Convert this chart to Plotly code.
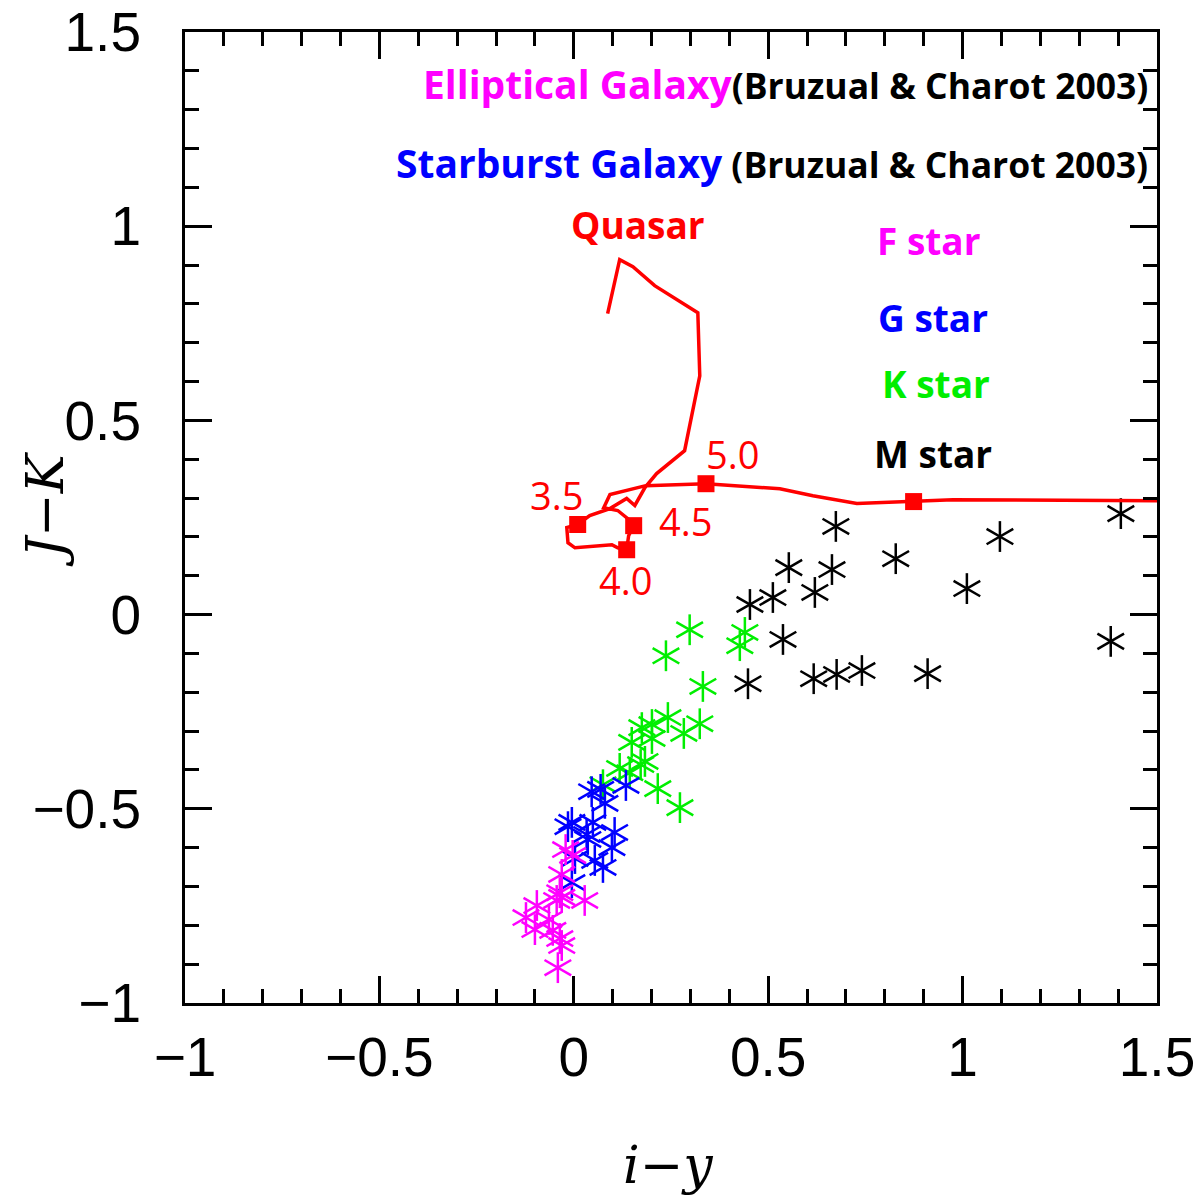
import plotly.graph_objects as go

# ---------------- data ----------------
quasar_x = [0.087, 0.118, 0.152, 0.208, 0.319, 0.324, 0.285, 0.213, 0.183, 0.157, 0.136, 0.093,
            0.041, 0.010, -0.018, -0.015, 0.003, 0.098, 0.113, 0.136, 0.141, 0.154, 0.139, 0.113,
            0.077, 0.093, 0.185, 0.340, 0.530, 0.615, 0.728, 0.874, 0.975, 1.5]
quasar_y = [0.775, 0.914, 0.896, 0.847, 0.777, 0.615, 0.422, 0.363, 0.327, 0.281, 0.299, 0.273,
            0.255, 0.232, 0.224, 0.185, 0.172, 0.180, 0.172, 0.167, 0.203, 0.229, 0.247, 0.268,
            0.275, 0.309, 0.332, 0.337, 0.324, 0.306, 0.286, 0.291, 0.296, 0.293]

z_mark_x = [0.010, 0.136, 0.154, 0.340, 0.874]
z_mark_y = [0.232, 0.167, 0.229, 0.337, 0.291]

z_label_text = ["3.5", "4.0", "4.5", "5.0"]
z_label_x = [-0.044, 0.134, 0.288, 0.409]
z_label_y = [0.309, 0.088, 0.242, 0.414]

m_x = [0.674, 1.407, 1.096, 0.828, 0.553, 0.664, 0.620, 0.512, 0.453, 1.011, 1.381, 0.538,
       0.448, 0.617, 0.676, 0.741, 0.910]
m_y = [0.227, 0.260, 0.201, 0.144, 0.121, 0.116, 0.057, 0.044, 0.026, 0.067, -0.069, -0.064,
       -0.178, -0.165, -0.154, -0.144, -0.152]

k_x = [0.298, 0.237, 0.440, 0.427, 0.332, 0.242, 0.324, 0.201, 0.175, 0.283, 0.201, 0.149,
       0.183, 0.172, 0.118, 0.144, 0.075, 0.216, 0.273]
k_y = [-0.039, -0.106, -0.046, -0.080, -0.185, -0.265, -0.281, -0.283, -0.291, -0.306, -0.319,
       -0.329, -0.378, -0.386, -0.396, -0.407, -0.438, -0.448, -0.497]

g_x = [0.046, 0.069, 0.080, 0.134, -0.005, -0.015, 0.049, 0.033, 0.036, 0.105, 0.098, 0.054,
       0.075, 0.003, -0.005]
g_y = [-0.456, -0.450, -0.486, -0.440, -0.535, -0.546, -0.535, -0.566, -0.579, -0.561, -0.600,
       -0.633, -0.651, -0.628, -0.690]

f_x = [-0.021, -0.003, -0.031, -0.036, -0.031, -0.044, 0.028, -0.095, -0.123, -0.064, -0.100,
       -0.054, -0.036, -0.031, -0.041]
f_y = [-0.605, -0.620, -0.669, -0.716, -0.728, -0.736, -0.736, -0.749, -0.780, -0.785, -0.811,
       -0.813, -0.834, -0.852, -0.909]

x_ticks = [-1, -0.5, 0, 0.5, 1, 1.5]
y_ticks = [-1, -0.5, 0, 0.5, 1, 1.5]

# ---------------- figure ----------------
fig = go.Figure()

def add_asterisks(xs, ys, color):
    for ang in (0, 60, -60):
        fig.add_trace(go.Scatter(
            x=xs, y=ys, mode="markers", showlegend=False, hoverinfo="skip",
            marker=dict(symbol="line-ns", size=22, angle=ang, color=color,
                        line=dict(color=color, width=2.5))))

add_asterisks(m_x, m_y, "black")
add_asterisks(k_x, k_y, "#00ee00")
add_asterisks(g_x, g_y, "#0000ff")
add_asterisks(f_x, f_y, "#ff00ff")

fig.add_trace(go.Scatter(x=quasar_x, y=quasar_y, mode="lines", showlegend=False,
                         line=dict(color="#ff0000", width=3.5)))
fig.add_trace(go.Scatter(x=z_mark_x, y=z_mark_y, mode="markers", showlegend=False,
                         marker=dict(symbol="square", size=17, color="#ff0000")))

for t, xx, yy in zip(z_label_text, z_label_x, z_label_y):
    fig.add_annotation(x=xx, y=yy, text=t, showarrow=False,
                       font=dict(family="Open Sans", size=38, color="#ff0000"))

bold = "Open Sans"
fig.add_annotation(x=0.165, y=1.004, text="<b>Quasar</b>", showarrow=False,
                   font=dict(family=bold, size=37, color="#ff0000"))
star_labels = [("F star", "#ff00ff", 0.913, 0.963), ("G star", "#0000ff", 0.923, 0.764),
               ("K star", "#00ee00", 0.931, 0.595), ("M star", "black", 0.923, 0.414)]
for t, c, xx, yy in star_labels:
    fig.add_annotation(x=xx, y=yy, text="<b>" + t + "</b>", showarrow=False,
                       font=dict(family=bold, size=37, color=c))

fig.add_annotation(x=1.481, y=1.367, xanchor="right", showarrow=False,
                   text="<b><span style='color:#ff00ff;font-size:39px'>Elliptical Galaxy</span>"
                        "<span style='font-size:35.5px'>(Bruzual &amp; Charot 2003)</span></b>",
                   font=dict(family=bold, size=35.5, color="black"))
fig.add_annotation(x=1.481, y=1.163, xanchor="right", showarrow=False,
                   text="<b><span style='color:#0000ff;font-size:39px'>Starburst Galaxy</span>"
                        "<span style='font-size:35.5px'> (Bruzual &amp; Charot 2003)</span></b>",
                   font=dict(family=bold, size=35.5, color="black"))

# axis titles
fig.add_annotation(xref="paper", yref="paper", x=0.497, y=-0.167, showarrow=False,
                   xanchor="center", yanchor="middle",
                   text="<i>i</i>\u2212<i>y</i>",
                   font=dict(family="DejaVu Serif", size=52, color="black"))
fig.add_annotation(xref="paper", yref="paper", x=-0.144, y=0.508, showarrow=False,
                   xanchor="center", yanchor="middle",
                   textangle=-90, text="<i>J</i>\u2212<i>K</i>",
                   font=dict(family="DejaVu Serif", size=52, color="black"))

axis_common = dict(showgrid=False, zeroline=False, showline=True, linecolor="black",
                   linewidth=3, mirror="ticks", ticks="inside", ticklen=27, tickwidth=3,
                   tickcolor="black", automargin=False,
                   tickfont=dict(family="Liberation Sans", size=55, color="black"),
                   minor=dict(ticks="inside", dtick=0.1, ticklen=14, tickwidth=3,
                              tickcolor="black", showgrid=False))

fig.update_xaxes(range=[-1, 1.5], tickvals=x_ticks, ticklabelstandoff=4, **axis_common)
fig.update_yaxes(range=[-1, 1.5], tickvals=y_ticks, ticklabelstandoff=30, **axis_common)

fig.update_layout(width=1204, height=1200, plot_bgcolor="white", paper_bgcolor="white",
                  margin=dict(l=185, r=47, t=32, b=197), showlegend=False)

fig.write_html("out.html")
